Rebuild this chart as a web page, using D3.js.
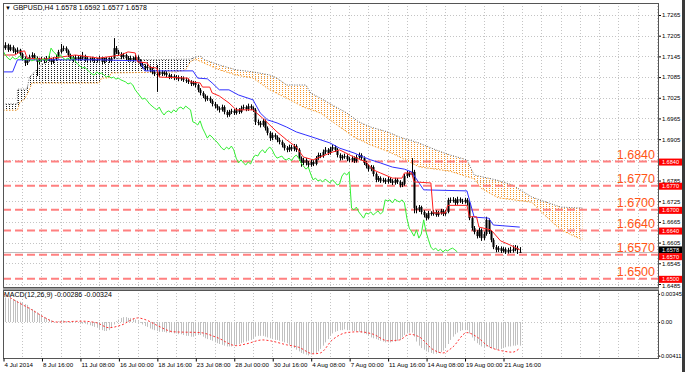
<!DOCTYPE html>
<html><head><meta charset="utf-8">
<script src="https://cdn.jsdelivr.net/npm/d3@7"></script>
<style>
body{margin:0;background:#fff;}
svg{display:block;}
text{font-family:"Liberation Sans",Arial,sans-serif;}
</style>
</head><body>
<svg id="chart" width="685" height="372"></svg>
<script>
// ---------------- DATA ----------------
const headerText = "GBPUSD,H4  1.6578 1.6592 1.6577 1.6578";
const macdText = "MACD(12,26,9) -0.00286 -0.00324";
const timeLabels = ["4 Jul 2014","8 Jul 16:00","11 Jul 08:00","16 Jul 00:00","18 Jul 16:00","23 Jul 08:00","28 Jul 00:00","30 Jul 16:00","4 Aug 08:00","7 Aug 00:00","11 Aug 16:00","14 Aug 08:00","19 Aug 00:00","21 Aug 16:00"];
const priceTicks = [1.7265,1.7205,1.7145,1.7085,1.7025,1.6965,1.6905,1.6845,1.6785,1.6725,1.6665,1.6605,1.6545,1.6485];
const levels = [1.6840,1.6770,1.6700,1.6640,1.6570,1.6500];
const currentPrice = 1.6578;
const macdTicks = [0.00345,0.00,-0.00411];

const opens = [1.7175,1.7169,1.7178,1.7164,1.7172,1.7161,1.7158,1.7164,1.7152,1.7140,
1.7126,1.7135,1.7143,1.7149,1.7140,1.7129,1.7135,1.7137,1.7132,1.7140,
1.7135,1.7129,1.7137,1.7143,1.7158,1.7166,1.7169,1.7161,1.7149,1.7140,
1.7135,1.7143,1.7137,1.7140,1.7146,1.7135,1.7137,1.7135,1.7137,1.7132,
1.7135,1.7140,1.7129,1.7135,1.7137,1.7132,1.7140,1.7169,1.7158,1.7152,
1.7143,1.7149,1.7140,1.7135,1.7140,1.7135,1.7143,1.7132,1.7123,1.7117,
1.7111,1.7114,1.7106,1.7100,1.7094,1.7091,1.7100,1.7094,1.7097,1.7091,
1.7085,1.7088,1.7082,1.7085,1.7079,1.7082,1.7077,1.7074,1.7071,1.7065,
1.7068,1.7062,1.7048,1.7039,1.7030,1.7021,1.7024,1.7016,1.7007,1.7001,
1.6995,1.6990,1.6998,1.6984,1.6975,1.6984,1.6987,1.6981,1.6990,1.6984,
1.6995,1.6998,1.6992,1.7001,1.6995,1.6990,1.6955,1.6952,1.6946,1.6958,
1.6937,1.6923,1.6908,1.6917,1.6911,1.6903,1.6897,1.6888,1.6879,1.6874,
1.6882,1.6876,1.6885,1.6874,1.6850,1.6836,1.6845,1.6836,1.6830,1.6839,
1.6833,1.6850,1.6859,1.6856,1.6868,1.6874,1.6865,1.6876,1.6882,1.6874,
1.6859,1.6850,1.6853,1.6856,1.6847,1.6845,1.6850,1.6842,1.6853,1.6859,
1.6850,1.6836,1.6827,1.6818,1.6824,1.6804,1.6787,1.6792,1.6784,1.6787,
1.6781,1.6789,1.6784,1.6778,1.6787,1.6781,1.6772,1.6775,1.6798,1.6807,
1.6801,1.6810,1.6705,1.6700,1.6708,1.6694,1.6685,1.6676,1.6691,1.6688,
1.6694,1.6685,1.6691,1.6697,1.6688,1.6694,1.6729,1.6726,1.6729,1.6720,
1.6731,1.6726,1.6723,1.6729,1.6720,1.6676,1.6647,1.6636,1.6624,1.6642,
1.6618,1.6630,1.6671,1.6636,1.6613,1.6592,1.6584,1.6589,1.6581,1.6586,
1.6578,1.6584,1.6581,1.6586,1.6589,1.6578];

const highs = [1.7184,1.7186,1.7182,1.7179,1.7177,1.7168,1.7171,1.7167,1.7156,1.7145,
1.7140,1.7150,1.7157,1.7154,1.7145,1.7141,1.7144,1.7142,1.7146,1.7147,
1.7140,1.7143,1.7150,1.7164,1.7181,1.7176,1.7174,1.7165,1.7153,1.7146,
1.7149,1.7148,1.7146,1.7158,1.7150,1.7143,1.7142,1.7144,1.7141,1.7140,
1.7147,1.7144,1.7141,1.7143,1.7142,1.7146,1.7198,1.7175,1.7164,1.7157,
1.7155,1.7153,1.7146,1.7147,1.7145,1.7150,1.7148,1.7137,1.7129,1.7122,
1.7120,1.7118,1.7111,1.7106,1.7120,1.7107,1.7105,1.7103,1.7102,1.7096,
1.7094,1.7093,1.7091,1.7090,1.7088,1.7087,1.7083,1.7080,1.7076,1.7074,
1.7073,1.7066,1.7053,1.7044,1.7035,1.7031,1.7029,1.7021,1.7013,1.7006,
1.7000,1.7005,1.7003,1.6989,1.6990,1.6993,1.6992,1.6996,1.6995,1.7002,
1.7005,1.7003,1.7008,1.7006,1.7000,1.6995,1.6962,1.6958,1.6964,1.6962,
1.6942,1.6928,1.6924,1.6922,1.6916,1.6909,1.6902,1.6893,1.6885,1.6889,
1.6888,1.6891,1.6890,1.6879,1.6855,1.6851,1.6850,1.6842,1.6845,1.6844,
1.6856,1.6866,1.6865,1.6875,1.6882,1.6879,1.6883,1.6889,1.6887,1.6879,
1.6864,1.6860,1.6863,1.6861,1.6853,1.6857,1.6855,1.6860,1.6866,1.6864,
1.6855,1.6841,1.6832,1.6830,1.6829,1.6809,1.6798,1.6797,1.6793,1.6792,
1.6795,1.6794,1.6789,1.6793,1.6792,1.6786,1.6781,1.6804,1.6813,1.6812,
1.6850,1.6816,1.6712,1.6714,1.6712,1.6699,1.6690,1.6697,1.6696,1.6700,
1.6699,1.6697,1.6703,1.6702,1.6700,1.6735,1.6736,1.6737,1.6734,1.6738,
1.6736,1.6732,1.6735,1.6734,1.6725,1.6681,1.6653,1.6641,1.6648,1.6646,
1.6637,1.6680,1.6675,1.6641,1.6618,1.6598,1.6595,1.6594,1.6592,1.6591,
1.6590,1.6593,1.6597,1.6598,1.6596,1.6592];

const lows = [1.7163,1.7164,1.7158,1.7160,1.7155,1.7151,1.7153,1.7147,1.7133,1.7117,
1.7120,1.7130,1.7139,1.7134,1.7088,1.7121,1.7129,1.7125,1.7127,1.7130,
1.7122,1.7124,1.7132,1.7139,1.7153,1.7160,1.7155,1.7143,1.7133,1.7128,
1.7130,1.7131,1.7132,1.7135,1.7129,1.7128,1.7129,1.7130,1.7126,1.7127,
1.7130,1.7123,1.7124,1.7129,1.7126,1.7128,1.7137,1.7152,1.7146,1.7137,
1.7138,1.7134,1.7129,1.7130,1.7128,1.7131,1.7126,1.7116,1.7110,1.7104,
1.7105,1.7099,1.7093,1.7088,1.7042,1.7086,1.7088,1.7089,1.7085,1.7079,
1.7080,1.7076,1.7077,1.7073,1.7074,1.7071,1.7068,1.7065,1.7059,1.7060,
1.7055,1.7041,1.7032,1.7024,1.7014,1.7016,1.7010,1.7000,1.6994,1.6988,
1.6982,1.6985,1.6977,1.6968,1.6970,1.6978,1.6975,1.6976,1.6978,1.6980,
1.6990,1.6986,1.6987,1.6989,1.6984,1.6946,1.6945,1.6939,1.6941,1.6930,
1.6916,1.6900,1.6902,1.6904,1.6896,1.6890,1.6881,1.6872,1.6867,1.6868,
1.6870,1.6870,1.6868,1.6842,1.6825,1.6830,1.6829,1.6823,1.6825,1.6827,
1.6829,1.6845,1.6850,1.6851,1.6862,1.6859,1.6860,1.6871,1.6868,1.6852,
1.6843,1.6845,1.6848,1.6841,1.6838,1.6839,1.6836,1.6837,1.6848,1.6844,
1.6830,1.6820,1.6811,1.6812,1.6797,1.6780,1.6781,1.6778,1.6779,1.6775,
1.6776,1.6778,1.6772,1.6773,1.6775,1.6765,1.6766,1.6770,1.6792,1.6795,
1.6795,1.6690,1.6690,1.6694,1.6687,1.6678,1.6669,1.6672,1.6683,1.6683,
1.6680,1.6680,1.6686,1.6682,1.6683,1.6690,1.6720,1.6721,1.6714,1.6715,
1.6720,1.6717,1.6718,1.6712,1.6670,1.6640,1.6629,1.6617,1.6619,1.6610,
1.6612,1.6625,1.6630,1.6606,1.6586,1.6577,1.6578,1.6575,1.6576,1.6572,
1.6573,1.6575,1.6576,1.6580,1.6572,1.6577];

const closes = [1.7169,1.7178,1.7164,1.7172,1.7161,1.7158,1.7164,1.7152,1.7140,1.7126,
1.7135,1.7143,1.7149,1.7140,1.7129,1.7135,1.7137,1.7132,1.7140,1.7135,
1.7129,1.7137,1.7143,1.7158,1.7166,1.7169,1.7161,1.7149,1.7140,1.7135,
1.7143,1.7137,1.7140,1.7146,1.7135,1.7137,1.7135,1.7137,1.7132,1.7135,
1.7140,1.7129,1.7135,1.7137,1.7132,1.7140,1.7169,1.7158,1.7152,1.7143,
1.7149,1.7140,1.7135,1.7140,1.7135,1.7143,1.7132,1.7123,1.7117,1.7111,
1.7114,1.7106,1.7100,1.7094,1.7091,1.7100,1.7094,1.7097,1.7091,1.7085,
1.7088,1.7082,1.7085,1.7079,1.7082,1.7077,1.7074,1.7071,1.7065,1.7068,
1.7062,1.7048,1.7039,1.7030,1.7021,1.7024,1.7016,1.7007,1.7001,1.6995,
1.6990,1.6998,1.6984,1.6975,1.6984,1.6987,1.6981,1.6990,1.6984,1.6995,
1.6998,1.6992,1.7001,1.6995,1.6990,1.6955,1.6952,1.6946,1.6958,1.6937,
1.6923,1.6908,1.6917,1.6911,1.6903,1.6897,1.6888,1.6879,1.6874,1.6882,
1.6876,1.6885,1.6874,1.6850,1.6836,1.6845,1.6836,1.6830,1.6839,1.6833,
1.6850,1.6859,1.6856,1.6868,1.6874,1.6865,1.6876,1.6882,1.6874,1.6859,
1.6850,1.6853,1.6856,1.6847,1.6845,1.6850,1.6842,1.6853,1.6859,1.6850,
1.6836,1.6827,1.6818,1.6824,1.6804,1.6787,1.6792,1.6784,1.6787,1.6781,
1.6789,1.6784,1.6778,1.6787,1.6781,1.6772,1.6775,1.6798,1.6807,1.6801,
1.6810,1.6705,1.6700,1.6708,1.6694,1.6685,1.6676,1.6691,1.6688,1.6694,
1.6685,1.6691,1.6697,1.6688,1.6694,1.6729,1.6726,1.6729,1.6720,1.6731,
1.6726,1.6723,1.6729,1.6720,1.6676,1.6647,1.6636,1.6624,1.6642,1.6618,
1.6630,1.6671,1.6636,1.6613,1.6592,1.6584,1.6589,1.6581,1.6586,1.6578,
1.6584,1.6581,1.6586,1.6589,1.6584,1.6578];

// Ichimoku lines: [bar index, price]
const tenkan = [[0,1.7149],[5,1.7149],[7,1.7158],[9,1.7161],[10,1.7140],[17,1.7137],[24,1.7143],[30,1.7149],[40,1.7140],[49,1.7149],[52,1.7158],[55,1.7155],[56,1.7129],[60,1.7126],[61,1.7114],[64,1.7111],[65,1.7085],[77,1.7082],[78,1.7071],[82,1.7068],[83,1.7056],[86,1.7056],[87,1.7039],[90,1.7030],[94,1.7010],[97,1.6990],[104,1.6990],[108,1.6966],[111,1.6946],[114,1.6926],[118,1.6903],[122,1.6882],[125,1.6853],[129,1.6845],[132,1.6853],[136,1.6865],[140,1.6874],[146,1.6853],[151,1.6839],[154,1.6816],[157,1.6807],[162,1.6792],[166,1.6792],[167,1.6807],[170,1.6807],[171,1.6781],[178,1.6778],[179,1.6691],[184,1.6691],[185,1.6713],[193,1.6713],[194,1.6680],[197,1.6680],[198,1.6650],[203,1.6642],[207,1.6610],[211,1.6598],[215,1.6584]];
const kijun = [[0,1.7100],[4,1.7100],[6,1.7135],[40,1.7135],[57,1.7132],[59,1.7103],[79,1.7103],[81,1.7082],[85,1.7080],[87,1.7068],[90,1.7048],[94,1.7048],[98,1.7033],[104,1.7019],[107,1.6981],[110,1.6961],[114,1.6952],[118,1.6940],[122,1.6926],[126,1.6917],[130,1.6908],[136,1.6894],[140,1.6879],[146,1.6865],[150,1.6853],[153,1.6845],[157,1.6836],[162,1.6824],[167,1.6818],[170,1.6810],[175,1.6758],[193,1.6755],[196,1.6679],[202,1.6676],[204,1.6656],[215,1.6650]];
const kumoTwist = 80;
const kumoUpper = [[0,1.7007],[6,1.7007],[6,1.7050],[10,1.7050],[11,1.7085],[14,1.7106],[18,1.7135],[45,1.7140],[60,1.7135],[78,1.7137],[80,1.7143],[82,1.7146],[84,1.7135],[90,1.7120],[97,1.7106],[104,1.7100],[111,1.7091],[114,1.7082],[118,1.7062],[126,1.7062],[128,1.7039],[132,1.7024],[137,1.7004],[143,1.6981],[148,1.6955],[153,1.6940],[160,1.6926],[165,1.6911],[173,1.6894],[180,1.6874],[186,1.6859],[193,1.6845],[196,1.6801],[205,1.6787],[212,1.6772],[220,1.6737],[232,1.6708],[241,1.6705]];
const kumoLower = [[0,1.6989],[6,1.6989],[7,1.7012],[9,1.7021],[11,1.7048],[12,1.7068],[40,1.7068],[41,1.7082],[44,1.7082],[45,1.7097],[72,1.7100],[76,1.7106],[78,1.7130],[80,1.7137],[90,1.7106],[97,1.7091],[104,1.7082],[111,1.7048],[118,1.7024],[125,1.6998],[132,1.6981],[139,1.6946],[146,1.6911],[153,1.6888],[160,1.6870],[166,1.6850],[173,1.6825],[186,1.6812],[196,1.6790],[199,1.6762],[206,1.6735],[220,1.6722],[223,1.6700],[232,1.6642],[241,1.6613]];

// MACD main (histogram) per bar, signal line points
const macdMain = [0.0030,0.0030,0.0029,0.0029,0.0028,0.0027,0.0026,0.0025,0.0024,0.0022,
0.0021,0.0018,0.0016,0.0014,0.0012,0.0010,0.0008,0.0006,0.0005,0.0003,
0.0002,0.0001,0.0000,0.0001,0.0002,0.0002,0.0001,0.0000,-0.0001,0.0000,
0.0001,0.0000,-0.0001,-0.0002,-0.0002,-0.0003,-0.0004,-0.0005,-0.0006,-0.0007,
-0.0009,-0.0010,-0.0011,-0.0011,-0.0010,-0.0007,-0.0003,0.0001,0.0003,0.0005,
0.0006,0.0006,0.0005,0.0005,0.0004,0.0003,0.0001,-0.0001,-0.0003,-0.0005,
-0.0006,-0.0008,-0.0009,-0.0010,-0.0011,-0.0012,-0.0012,-0.0012,-0.0013,-0.0013,
-0.0013,-0.0014,-0.0014,-0.0015,-0.0015,-0.0016,-0.0017,-0.0017,-0.0018,-0.0018,
-0.0017,-0.0016,-0.0016,-0.0018,-0.0020,-0.0021,-0.0022,-0.0023,-0.0025,-0.0026,
-0.0027,-0.0028,-0.0029,-0.0030,-0.0030,-0.0030,-0.0029,-0.0028,-0.0027,-0.0026,
-0.0025,-0.0024,-0.0023,-0.0022,-0.0020,-0.0018,-0.0017,-0.0017,-0.0017,-0.0018,
-0.0019,-0.0020,-0.0021,-0.0022,-0.0022,-0.0023,-0.0024,-0.0025,-0.0026,-0.0028,
-0.0030,-0.0032,-0.0034,-0.0036,-0.0038,-0.0039,-0.0040,-0.0041,-0.0040,-0.0039,
-0.0038,-0.0036,-0.0033,-0.0029,-0.0025,-0.0021,-0.0017,-0.0014,-0.0012,-0.0011,
-0.0010,-0.0010,-0.0009,-0.0010,-0.0010,-0.0011,-0.0011,-0.0012,-0.0012,-0.0013,
-0.0014,-0.0015,-0.0017,-0.0019,-0.0020,-0.0021,-0.0022,-0.0023,-0.0024,-0.0025,
-0.0025,-0.0025,-0.0024,-0.0024,-0.0023,-0.0022,-0.0019,-0.0016,-0.0014,-0.0013,
-0.0013,-0.0018,-0.0024,-0.0029,-0.0032,-0.0034,-0.0036,-0.0037,-0.0038,-0.0039,
-0.0039,-0.0038,-0.0037,-0.0035,-0.0032,-0.0027,-0.0022,-0.0018,-0.0015,-0.0013,
-0.0011,-0.0010,-0.0010,-0.0010,-0.0014,-0.0019,-0.0023,-0.0026,-0.0028,-0.0030,
-0.0031,-0.0030,-0.0031,-0.0032,-0.0033,-0.0034,-0.0034,-0.0033,-0.0032,-0.0031,
-0.0030,-0.0030,-0.0029,-0.0029,-0.0028,-0.0029];
const macdSignal = [[0,0.0035],[7,0.0023],[12,0.0015],[17,0.0006],[22,0.0000],[33,0.0001],[39,-0.0001],[44,-0.0007],[49,-0.0004],[56,0.0005],[60,0.0002],[64,-0.0004],[71,-0.0012],[82,-0.0013],[89,-0.0019],[97,-0.0029],[101,-0.0027],[108,-0.0022],[111,-0.0023],[118,-0.0028],[123,-0.0031],[129,-0.0039],[132,-0.0038],[137,-0.0022],[143,-0.0013],[148,-0.0012],[154,-0.0015],[160,-0.0023],[165,-0.0022],[169,-0.0015],[173,-0.0018],[179,-0.0034],[183,-0.0038],[187,-0.0031],[193,-0.0013],[197,-0.0018],[202,-0.0030],[207,-0.0035],[212,-0.0037],[215,-0.0032]];

// ---------------- LAYOUT ----------------
const L = 3, R = 658, T = 3, MB = 287, MT = 290, BB = 358;
const chikouShift = 26, labelEvery = 16, gridEvery = 8, tagH = 7;

const svg = d3.select("#chart");
const x = d3.scaleLinear().domain([0, 208]).range([3, 503]);
const y = d3.scaleLinear().domain([1.6485, 1.7265]).range([284, 15]);
const ym = d3.scaleLinear().domain([-0.00411, 0.00345]).range([355.5, 293.9]);

svg.append("rect").attr("width",685).attr("height",372).attr("fill","#fff");

const defs = svg.append("defs");
defs.append("clipPath").attr("id","clipMain").append("rect").attr("x",L).attr("y",T).attr("width",R-L).attr("height",MB-T);
defs.append("clipPath").attr("id","clipMacd").append("rect").attr("x",L).attr("y",MT).attr("width",R-L).attr("height",BB-MT);
function dotPattern(id, color, w, h){
  const p = defs.append("pattern").attr("id",id).attr("patternUnits","userSpaceOnUse")
    .attr("x",0).attr("y",0).attr("width",w).attr("height",h);
  p.append("rect").attr("x",0).attr("y",0).attr("width",1).attr("height",1).attr("fill",color);
}
dotPattern("dotsBlack","#222",3,2);
dotPattern("dotsOrange","#F5962A",3,2);

// grid
const grid = svg.append("g").attr("stroke","#c4c4c4").attr("stroke-width",1).attr("stroke-dasharray","1,2").attr("shape-rendering","crispEdges");
priceTicks.forEach(p => grid.append("line").attr("x1",L).attr("x2",R).attr("y1",Math.round(y(p))+0.5).attr("y2",Math.round(y(p))+0.5));
for (let b = gridEvery; x(b) < R; b += gridEvery) {
  const xx = Math.round(x(b)) + 0.5;
  grid.append("line").attr("x1",xx).attr("x2",xx).attr("y1",T).attr("y2",MB);
  grid.append("line").attr("x1",xx).attr("x2",xx).attr("y1",MT).attr("y2",BB);
}
grid.append("line").attr("x1",L).attr("x2",R).attr("y1",Math.round(ym(0))+0.5).attr("y2",Math.round(ym(0))+0.5);

const main = svg.append("g").attr("clip-path","url(#clipMain)");

// cloud
function poly(upper, lower){
  const pts = upper.map(d=>[x(d[0]),y(d[1])]).concat(lower.slice().reverse().map(d=>[x(d[0]),y(d[1])]));
  return "M" + pts.map(p=>p.join(",")).join("L") + "Z";
}
const upA = kumoUpper.filter(d=>d[0]<=kumoTwist), loA = kumoLower.filter(d=>d[0]<=kumoTwist);
const upB = kumoUpper.filter(d=>d[0]>=kumoTwist), loB = kumoLower.filter(d=>d[0]>=kumoTwist);
main.append("path").attr("d",poly(upA,loA)).attr("fill","url(#dotsBlack)");
main.append("path").attr("d",poly(upB,loB)).attr("fill","url(#dotsOrange)");
const ln = d3.line().x(d=>x(d[0])).y(d=>y(d[1]));
main.append("path").attr("d",ln(kumoUpper)).attr("fill","none").attr("stroke","#666").attr("stroke-width",1).attr("stroke-dasharray","1,1.5");
main.append("path").attr("d",ln(kumoLower)).attr("fill","none").attr("stroke","#F59A2A").attr("stroke-width",1).attr("stroke-dasharray","1.5,1.5");

// level lines
levels.forEach(p=>{
  main.append("line").attr("x1",L).attr("x2",R).attr("y1",y(p)).attr("y2",y(p))
    .attr("stroke","#FF8080").attr("stroke-width",2).attr("stroke-dasharray","8,4");
});
// bid line
main.append("line").attr("x1",L).attr("x2",R).attr("y1",Math.round(y(currentPrice))+0.5).attr("y2",Math.round(y(currentPrice))+0.5)
  .attr("stroke","#bdbdbd").attr("stroke-width",1);

// candles
const cg = main.append("g");
closes.forEach((c,i)=>{
  const xx = Math.round(x(i)) + 0.5;
  cg.append("line").attr("x1",xx).attr("x2",xx).attr("y1",y(highs[i])).attr("y2",y(lows[i])).attr("stroke","#000").attr("stroke-width",1);
  const top = y(Math.max(opens[i],c)), bot = y(Math.min(opens[i],c));
  cg.append("rect").attr("x",xx-1).attr("width",2).attr("y",top).attr("height",Math.max(1,bot-top)).attr("fill","#000");
});

// Ichimoku lines
main.append("path").attr("d",ln(kijun)).attr("fill","none").attr("stroke","#3030ff").attr("stroke-width",1);
main.append("path").attr("d",ln(tenkan)).attr("fill","none").attr("stroke","#ff2020").attr("stroke-width",1);
const chikou = closes.slice(chikouShift).map((c,i)=>[i,c]);
main.append("path").attr("d",ln(chikou)).attr("fill","none").attr("stroke","#33ee33").attr("stroke-width",1);

// level text labels
levels.forEach(p=>{
  svg.append("text").attr("x",655).attr("y",y(p)-3).attr("text-anchor","end")
    .attr("font-size",12.5).attr("fill","#FF5516").text(p.toFixed(4));
});

// right price axis (labels hidden under a level tag are not shown, as in the original)
const tagCenters = levels.map(p=>y(p)+0.5).concat([y(currentPrice)-2]);
const hidden = p => tagCenters.some(c => Math.abs(c - y(p)) < 4);
const ax = svg.append("g").attr("transform",`translate(${R},0)`)
  .call(d3.axisRight(y).tickValues(priceTicks).tickSize(3).tickFormat(d=> hidden(d) ? "" : d.toFixed(4)));
ax.select(".domain").remove();
ax.selectAll("text").attr("font-size",6).attr("fill","#000").attr("x",4);
ax.selectAll("line").attr("stroke","#000");
ax.selectAll(".tick").filter(d=>d===1.6485).select("text").attr("dy","0.55em");

// price tags
const tagG = svg.append("g");
tagG.append("rect").attr("x",R+1).attr("y",y(currentPrice)-2-tagH/2).attr("width",23).attr("height",tagH).attr("fill","#000");
tagG.append("text").attr("x",R+12.5).attr("y",y(currentPrice)-2+2).attr("text-anchor","middle").attr("font-size",5.6).attr("fill","#fff").text(currentPrice.toFixed(4));
levels.forEach(p=>{
  const c = y(p)+0.5 + (p===1.6570 ? 1.5 : 0);
  tagG.append("rect").attr("x",R+1).attr("y",c-tagH/2).attr("width",23).attr("height",tagH).attr("fill","#ff0000");
  tagG.append("text").attr("x",R+12.5).attr("y",c+2).attr("text-anchor","middle").attr("font-size",5.6).attr("fill","#fff").text(p.toFixed(4));
});

// MACD
const mg = svg.append("g").attr("clip-path","url(#clipMacd)");
macdMain.forEach((v,i)=>{
  const xx = Math.round(x(i)) + 0.5;
  mg.append("line").attr("x1",xx).attr("x2",xx).attr("y1",ym(0)).attr("y2",ym(v)).attr("stroke","#c0c0c0").attr("stroke-width",1);
});
const lm = d3.line().x(d=>x(d[0])).y(d=>ym(d[1])).curve(d3.curveMonotoneX);
mg.append("path").attr("d",lm(macdSignal)).attr("fill","none").attr("stroke","#ff3030").attr("stroke-width",1).attr("stroke-dasharray","2,2");

const axm = svg.append("g").attr("transform",`translate(${R},0)`)
  .call(d3.axisRight(ym).tickValues(macdTicks).tickSize(2).tickFormat(d=> d===0 ? "0.00" : d.toFixed(5)));
axm.select(".domain").remove();
axm.selectAll("text").attr("font-size",5.8).attr("fill","#000").attr("x",d=> d<0 ? 1 : 3);
axm.selectAll("line").attr("stroke","#000");

// frames
svg.append("rect").attr("x",L+0.5).attr("y",T+0.5).attr("width",R-L).attr("height",MB-T).attr("fill","none").attr("stroke","#555");
svg.append("rect").attr("x",L).attr("y",MB+1).attr("width",R-L+1).attr("height",2).attr("fill","#a0a0a0");
svg.append("rect").attr("x",L+0.5).attr("y",MT+0.5).attr("width",R-L).attr("height",BB-MT).attr("fill","none").attr("stroke","#555");
svg.append("rect").attr("x",682).attr("y",0).attr("width",3).attr("height",372).attr("fill","#3a3a3a");

// time axis
const labelBars = timeLabels.map((t,i)=>i*labelEvery);
const axb = svg.append("g").attr("transform",`translate(0,${BB+0.5})`)
  .call(d3.axisBottom(x).tickValues(labelBars).tickSize(3).tickFormat((d,i)=>timeLabels[i]));
axb.select(".domain").remove();
axb.selectAll("line").attr("stroke","#000").attr("transform","translate(0.5,0)");
axb.selectAll("text").attr("font-size",6.2).attr("fill","#000").attr("text-anchor","start").attr("dx",1).attr("y",4);

// header texts
svg.append("text").attr("x",5).attr("y",10).attr("font-size",6).attr("fill","#000").text("\u25BC");
svg.append("text").attr("x",13).attr("y",10).attr("font-size",7).attr("fill","#000").text(headerText);
svg.append("text").attr("x",4).attr("y",297).attr("font-size",7).attr("fill","#000").text(macdText);
</script>
</body></html>
